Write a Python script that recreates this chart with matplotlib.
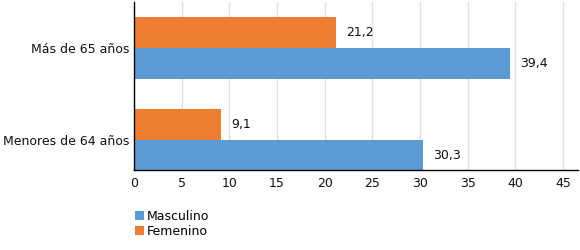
import matplotlib.pyplot as plt
import numpy as np

categories = ['Menores de 64 años', 'Más de 65 años']
masculino = [30.3, 39.4]
femenino = [9.1, 21.2]
xticks = [0, 5, 10, 15, 20, 25, 30, 35, 40, 45]

blue = '#5b9bd5'
orange = '#ed7d31'

fig = plt.figure(figsize=(5.8, 2.5), dpi=100)
ax = fig.add_axes([0.231, 0.32, 0.766, 0.672])

y = np.arange(len(categories))
h = 0.335
bm = ax.barh(y - h / 2, masculino, h, color=blue, label='Masculino', zorder=2)
bf = ax.barh(y + h / 2, femenino, h, color=orange, label='Femenino', zorder=2)

# value labels at the end of each bar, decimal comma
for bars, vals in ((bm, masculino), (bf, femenino)):
    for b, v in zip(bars, vals):
        ax.text(v + 1.1, b.get_y() + b.get_height() / 2, f'{v:.1f}'.replace('.', ','),
                va='center', ha='left', fontsize=9, color='#111111')

ax.set_xlim(0, 46.6)
ax.set_ylim(-0.33, 1.5)
ax.set_xticks(xticks)
ax.set_yticks(y)
ax.set_yticklabels(categories)
ax.tick_params(length=0, labelsize=9, colors='#111111')
ax.tick_params(axis='x', pad=5)
ax.tick_params(axis='y', pad=3)
ax.grid(axis='x', color='#e0e0e0', linewidth=1, zorder=0)
for s in ('top', 'right'):
    ax.spines[s].set_visible(False)
for s in ('left', 'bottom'):
    ax.spines[s].set_color('black')
    ax.spines[s].set_linewidth(1)

fig.legend(handles=[bm, bf], loc='upper left', bbox_to_anchor=(0.232, 0.162),
           frameon=False, fontsize=9, handlelength=0.75, handleheight=0.75,
           handletextpad=0.25, labelspacing=0.2, borderpad=0, borderaxespad=0)

fig.savefig('out.png', dpi=100)
